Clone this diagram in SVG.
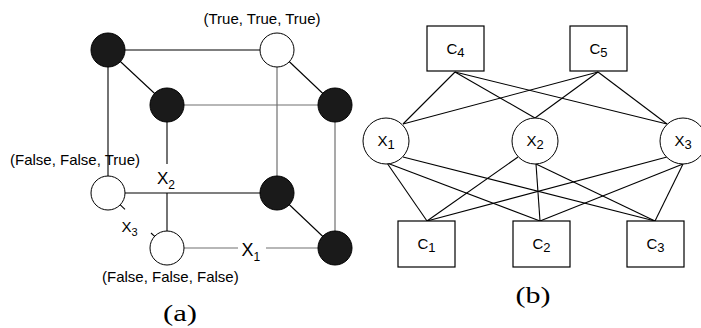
<svg xmlns="http://www.w3.org/2000/svg" width="701" height="328" viewBox="0 0 701 328">
<style>
.ln{stroke:#000;stroke-width:1.1;fill:none}
.gr{stroke:#707070;stroke-width:1.2;fill:none}
.blk{fill:#1a1a1a;stroke:#000;stroke-width:1}
.wht{fill:#fff;stroke:#000;stroke-width:1}
.box{fill:#fff;stroke:#000;stroke-width:1.2}
.t{font-family:"Liberation Sans",Arial,sans-serif;fill:#000}
.cap{font-family:"Liberation Serif","Times New Roman",serif;font-size:24px;fill:#000}
</style>
<rect width="701" height="328" fill="#fff"/>
<g id="cube-edges">
<line class="ln" x1="108" y1="50" x2="277" y2="50"/>
<line class="ln" x1="108" y1="50" x2="167" y2="105"/>
<line class="ln" x1="277" y1="50" x2="335" y2="105"/>
<line class="gr" x1="167" y1="105" x2="335" y2="105"/>
<line class="ln" x1="108" y1="50" x2="108" y2="193"/>
<line class="ln" x1="167" y1="105" x2="167" y2="164"/>
<line class="ln" x1="167" y1="193" x2="167" y2="248"/>
<line class="ln" x1="108" y1="193" x2="277" y2="193"/>
<line class="gr" x1="277" y1="50" x2="277" y2="193"/>
<line class="gr" x1="335" y1="105" x2="335" y2="248"/>
<line class="ln" x1="277" y1="193" x2="335" y2="248"/>
<line class="gr" x1="167" y1="248" x2="238" y2="248"/>
<line class="gr" x1="266" y1="248" x2="335" y2="248"/>
<line class="ln" x1="120" y1="204.6" x2="125" y2="209.3"/>
<line class="ln" x1="151" y1="233" x2="155" y2="236.6"/>
</g>
<g id="v-fft"><circle class="wht" cx="108" cy="193" r="17"/></g>
<g id="v-fff"><circle class="wht" cx="167" cy="248" r="17"/></g>
<g id="v-ttt"><circle class="wht" cx="277" cy="50" r="17"/></g>
<g id="v-b1"><circle class="blk" cx="108" cy="50" r="17"/></g>
<g id="v-b2"><circle class="blk" cx="167" cy="105" r="17"/></g>
<g id="v-b3"><circle class="blk" cx="335" cy="105" r="17"/></g>
<g id="v-b4"><circle class="blk" cx="277" cy="193" r="17"/></g>
<g id="v-b5"><circle class="blk" cx="335" cy="248" r="17"/></g>
<g id="cube-labels">
<text class="t" x="262" y="24" font-size="15" text-anchor="middle">(True, True, True)</text>
<text class="t" x="10" y="165" font-size="15">(False, False, True)</text>
<text class="t" x="102" y="282" font-size="15">(False, False, False)</text>
<text class="t" x="157" y="184" font-size="17">X<tspan font-size="12" dy="5">2</tspan></text>
<text class="t" x="121.5" y="232" font-size="15">X<tspan font-size="11" dy="4">3</tspan></text>
<text class="t" x="241.5" y="256" font-size="18">X<tspan font-size="12" dy="5">1</tspan></text>
<text class="cap" x="180" y="321" text-anchor="middle" textLength="34" lengthAdjust="spacingAndGlyphs">(a)</text>
</g>
<g id="connectors">
<line class="ln" x1="455" y1="72" x2="403" y2="124"/>
<line class="ln" x1="455" y1="72" x2="535" y2="118"/>
<line class="ln" x1="455" y1="72" x2="667" y2="124"/>
<line class="ln" x1="598" y1="72" x2="403" y2="124"/>
<line class="ln" x1="598" y1="72" x2="535" y2="118"/>
<line class="ln" x1="598" y1="72" x2="667" y2="124"/>
<line class="ln" x1="387" y1="163" x2="427" y2="221"/>
<line class="ln" x1="387" y1="163" x2="540" y2="221"/>
<line class="ln" x1="403" y1="157" x2="655" y2="221"/>
<line class="ln" x1="518" y1="157" x2="427" y2="221"/>
<line class="ln" x1="536" y1="164" x2="540" y2="221"/>
<line class="ln" x1="536" y1="164" x2="655" y2="221"/>
<line class="ln" x1="667" y1="157" x2="427" y2="221"/>
<line class="ln" x1="683" y1="164" x2="540" y2="221"/>
<line class="ln" x1="683" y1="164" x2="655" y2="221"/>
</g>
<g id="C4"><rect class="box" x="427" y="26" width="57" height="45"/><text class="t" x="455.5" y="54" font-size="15" text-anchor="middle">C<tspan font-size="13" dy="3">4</tspan></text></g>
<g id="C5"><rect class="box" x="570" y="26" width="57" height="45"/><text class="t" x="598.5" y="54" font-size="15" text-anchor="middle">C<tspan font-size="13" dy="3">5</tspan></text></g>
<g id="X1"><circle class="wht" cx="386" cy="141" r="23"/><text class="t" x="386" y="146" font-size="15" text-anchor="middle">X<tspan font-size="13" dy="3">1</tspan></text></g>
<g id="X2"><circle class="wht" cx="535" cy="141" r="23"/><text class="t" x="535" y="146" font-size="15" text-anchor="middle">X<tspan font-size="13" dy="3">2</tspan></text></g>
<g id="X3"><circle class="wht" cx="683" cy="141" r="23"/><text class="t" x="683" y="146" font-size="15" text-anchor="middle">X<tspan font-size="13" dy="3">3</tspan></text></g>
<g id="C1"><rect class="box" x="398" y="221" width="57" height="46"/><text class="t" x="426.5" y="249" font-size="15" text-anchor="middle">C<tspan font-size="13" dy="3">1</tspan></text></g>
<g id="C2"><rect class="box" x="513" y="221" width="57" height="46"/><text class="t" x="541.5" y="249" font-size="15" text-anchor="middle">C<tspan font-size="13" dy="3">2</tspan></text></g>
<g id="C3"><rect class="box" x="627" y="221" width="57" height="46"/><text class="t" x="655.5" y="249" font-size="15" text-anchor="middle">C<tspan font-size="13" dy="3">3</tspan></text></g>
<g id="caption-b"><text class="cap" x="533" y="303" text-anchor="middle" textLength="35" lengthAdjust="spacingAndGlyphs">(b)</text></g>
</svg>
